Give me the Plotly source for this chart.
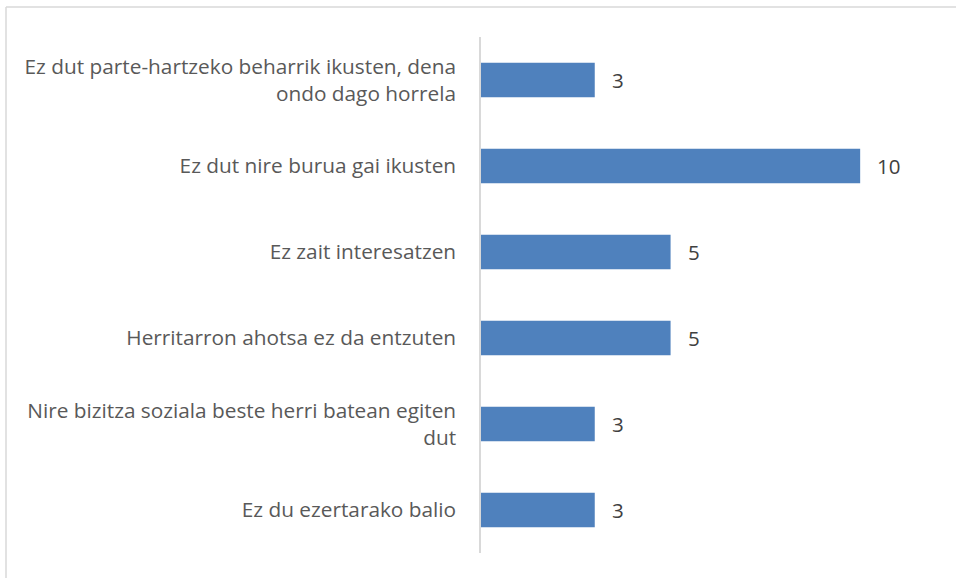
import plotly.graph_objects as go

categories = [
    "Ez dut parte-hartzeko beharrik ikusten, dena<br>ondo dago horrela",
    "Ez dut nire burua gai ikusten",
    "Ez zait interesatzen",
    "Herritarron ahotsa ez da entzuten",
    "Nire bizitza soziala beste herri batean egiten<br>dut",
    "Ez du ezertarako balio",
]
values = [3, 10, 5, 5, 3, 3]

font_family = "Open Sans, Liberation Sans, sans-serif"
text_color = "#595959"

fig = go.Figure(go.Bar(
    x=values, y=categories, orientation="h",
    marker=dict(color="#4F81BD", line=dict(width=0)),
    width=0.4, hoverinfo="skip",
))

annotations = [
    dict(x=v, y=c, xref="x", yref="y", text=str(v), showarrow=False,
         xanchor="left", yanchor="middle", xshift=15, yshift=0,
         font=dict(family=font_family, size=20.5, color="#404040"))
    for c, v in zip(categories, values)
]

W, H = 956, 578
ml, mr, mt, mb = 481, 20, 37, 25
pw, ph = W - ml - mr, H - mt - mb
bx, by = 6, 7  # border left x, top y in pixels
fig.update_layout(
    width=W, height=H,
    margin=dict(l=ml, r=mr, t=mt, b=mb),
    paper_bgcolor="white", plot_bgcolor="white",
    showlegend=False,
    annotations=annotations,
    xaxis=dict(range=[0, 12], visible=False, fixedrange=True),
    yaxis=dict(autorange="reversed", showline=True, linecolor="#D9D9D9", linewidth=1.5,
               showgrid=False, zeroline=False, ticks="", ticklabelstandoff=19,
               tickfont=dict(family=font_family, size=20.8, color=text_color), fixedrange=True),
    shapes=[
        dict(type="line", xref="paper", yref="paper",
             x0=(bx - ml) / pw, x1=(W + 10 - ml) / pw,
             y0=1 + (mt - by) / ph, y1=1 + (mt - by) / ph,
             line=dict(color="#D9D9D9", width=1.5)),
        dict(type="line", xref="paper", yref="paper",
             x0=(bx - ml) / pw, x1=(bx - ml) / pw,
             y0=-(mb + 10) / ph, y1=1 + (mt - by) / ph,
             line=dict(color="#D9D9D9", width=1.5)),
    ],
)

fig.write_html("out.html", config={"displayModeBar": False},
               post_script="document.body.style.margin='0px';")
